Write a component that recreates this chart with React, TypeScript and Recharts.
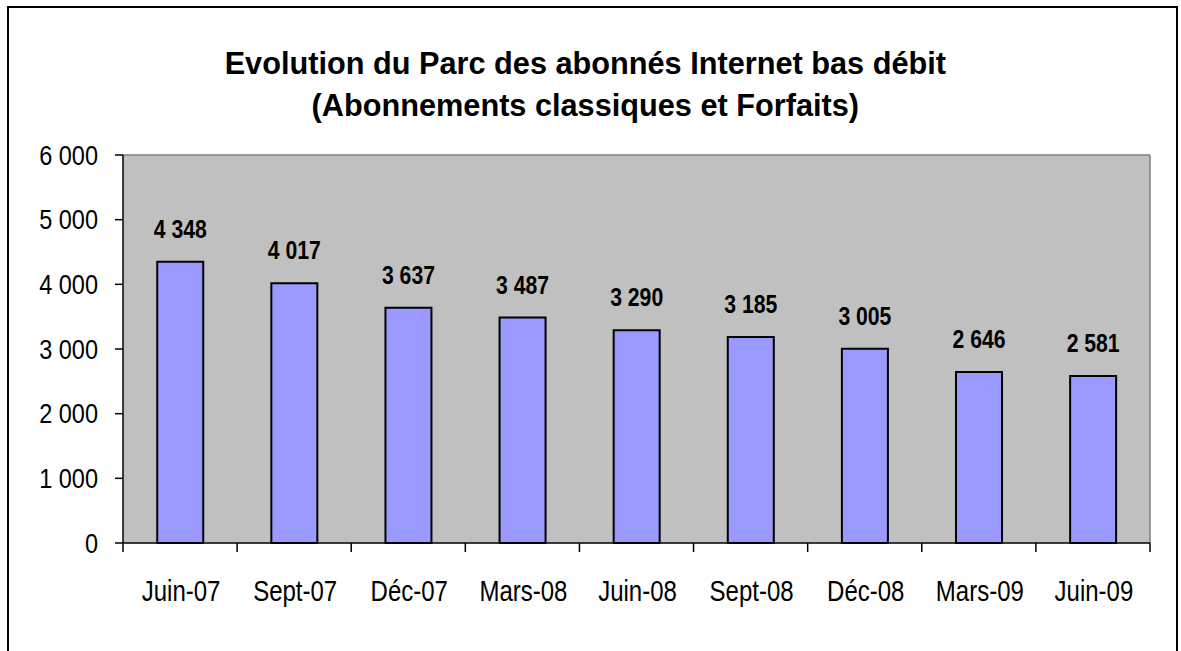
import React from "react";
import { BarChart, Bar, XAxis, YAxis, CartesianGrid, LabelList } from "recharts";

const periods = ["Juin-07", "Sept-07", "Déc-07", "Mars-08", "Juin-08", "Sept-08", "Déc-08", "Mars-09", "Juin-09"];
const abonnes = [4348, 4017, 3637, 3487, 3290, 3185, 3005, 2646, 2581];
const yTicks = [0, 1000, 2000, 3000, 4000, 5000, 6000];

const data = periods.map((p, i) => ({ name: p, value: abonnes[i] }));

const FONT = "'Liberation Sans', Arial, sans-serif";

// thousands with a plain space, like the source ("4 348")
const fmt = (v: number) => String(v).replace(/\B(?=(\d{3})+(?!\d))/g, " ");

function YTick({ x, y, payload }: any) {
  return (
    <text
      transform={`translate(${x},${y}) scale(0.84,1)`}
      textAnchor="end"
      dominantBaseline="central"
      fontSize={28}
      fontFamily={FONT}
      fill="#000"
    >
      {fmt(payload.value)}
    </text>
  );
}

function XTick({ x, y, payload }: any) {
  const half = payload.offset || 57;
  const last = payload.index === periods.length - 1;
  return (
    <g>
      <line x1={x - half} x2={x - half} y1={y} y2={y + 9} stroke="#000" strokeWidth={1.5} />
      {last && <line x1={x + half} x2={x + half} y1={y} y2={y + 9} stroke="#000" strokeWidth={1.5} />}
      <text
        transform={`translate(${x + 1},${y + 58}) scale(0.8,1)`}
        textAnchor="middle"
        fontSize={30}
        fontFamily={FONT}
        fill="#000"
      >
        {payload.value}
      </text>
    </g>
  );
}

function ValueLabel({ x, y, width, value }: any) {
  return (
    <text
      transform={`translate(${x + width / 2},${y - 24}) scale(0.815,1)`}
      textAnchor="middle"
      fontSize={26}
      fontWeight="bold"
      fontFamily={FONT}
      fill="#000"
    >
      {fmt(value)}
    </text>
  );
}

export default function App() {
  return (
    <div style={{ position: "fixed", left: 0, top: 0, width: 1181, height: 651, background: "#fff" }}>
      <div
        style={{
          position: "absolute",
          left: 7,
          top: 6,
          width: 1171,
          height: 700,
          boxSizing: "border-box",
          borderLeft: "2px solid #000",
          borderTop: "2px solid #000",
          borderRight: "2px solid #000",
        }}
      />
      <div
        style={{
          position: "absolute",
          left: 0,
          top: 43,
          width: 1171,
          textAlign: "center",
          fontFamily: FONT,
          fontWeight: "bold",
          fontSize: 31,
          lineHeight: "42px",
          color: "#000",
        }}
      >
        <span style={{ display: "inline-block", transform: "scaleX(0.99)" }}>
          Evolution du Parc des abonnés Internet bas débit
          <br />
          (Abonnements classiques et Forfaits)
        </span>
      </div>
      <div style={{ position: "absolute", left: 0, top: 0 }}>
        <BarChart
          width={1181}
          height={651}
          data={data}
          margin={{ top: 155, right: 31, left: 0, bottom: 48 }}
          barCategoryGap="30%"
        >
          <CartesianGrid
            fill="#C0C0C0"
            stroke="#808080"
            strokeWidth={1.5}
            horizontalCoordinatesGenerator={(p: any) => [p.offset.top]}
            verticalCoordinatesGenerator={(p: any) => [p.offset.left + p.offset.width]}
          />
          <XAxis
            dataKey="name"
            height={60}
            axisLine={{ stroke: "#000", strokeWidth: 1.5 }}
            tickLine={false}
            tickSize={0}
            tickMargin={0}
            interval={0}
            tick={<XTick />}
          />
          <YAxis
            width={123}
            domain={[0, 6000]}
            ticks={yTicks}
            interval={0}
            axisLine={{ stroke: "#000", strokeWidth: 1.5 }}
            tickLine={{ stroke: "#000", strokeWidth: 1.5 }}
            tickSize={8}
            tickMargin={17}
            tick={<YTick />}
          />
          <Bar dataKey="value" fill="#9999FF" stroke="#000" strokeWidth={2} isAnimationActive={false}>
            <LabelList dataKey="value" content={<ValueLabel />} />
          </Bar>
        </BarChart>
      </div>
    </div>
  );
}
